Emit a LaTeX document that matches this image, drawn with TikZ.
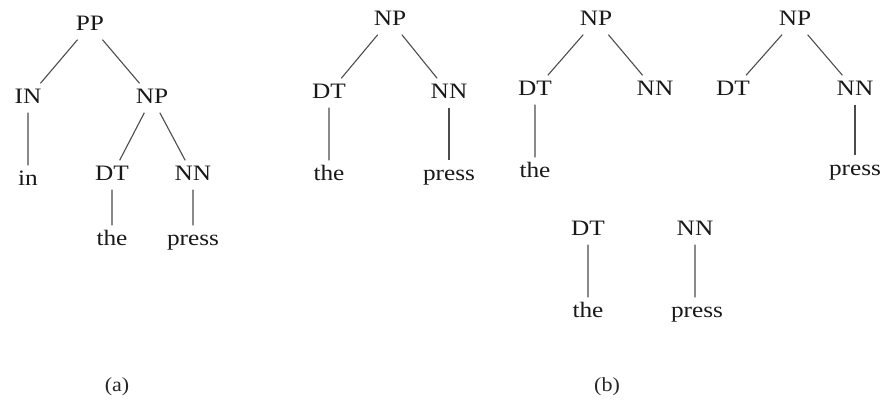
\documentclass[tikz,border=0pt]{standalone}
\usepackage{fontspec}
\setmainfont{Liberation Serif}
\begin{document}
\begin{tikzpicture}[
    x=1pt, y=-1pt,
    % Styles
    cat/.style={font=\fontsize{22}{25}\selectfont, xscale=1.15, text height=15pt, text depth=4pt, inner sep=5pt, text=black!90},
    word/.style={cat},
    branch/.style={line width=1.1pt, black!70},
    caption/.style={font=\fontsize{20}{23}\selectfont, xscale=1.1, text=black!85},
]
\useasboundingbox (0,0) rectangle (885,400);

% (a) full tree
\node[cat] (pp) at (90, 25) {PP};
\node[cat] (in-tag) at (28, 98) {IN};
\node[cat] (np-a) at (152, 98) {NP};
\node[word] (in-word) at (28, 180) {in};
\node[cat] (dt-a) at (112, 175) {DT};
\node[cat] (nn-a) at (193, 175) {NN};
\node[word] (the-a) at (112, 240) {the};
\node[word] (press-a) at (193, 240) {press};

\draw[branch] (pp) -- (in-tag);
\draw[branch] (pp) -- (np-a);
\draw[branch] (in-tag) -- (in-word);
\draw[branch] (np-a) -- (dt-a);
\draw[branch] (np-a) -- (nn-a);
\draw[branch] (dt-a) -- (the-a);
\draw[branch] (nn-a) -- (press-a);

% (b) subtrees
\node[cat] (np-b) at (390, 20) {NP};
\node[cat] (dt-b) at (329, 93) {DT};
\node[cat] (nn-b) at (449, 93) {NN};
\node[word] (the-b) at (329, 175) {the};
\node[word] (press-b) at (449, 175) {press};

\draw[branch] (np-b) -- (dt-b);
\draw[branch] (np-b) -- (nn-b);
\draw[branch] (dt-b) -- (the-b);
\draw[branch] (nn-b) -- (press-b);

\node[cat] (np-c) at (596, 20) {NP};
\node[cat] (dt-c) at (535, 90) {DT};
\node[cat] (nn-c) at (655, 90) {NN};
\node[word] (the-c) at (535, 172) {the};

\draw[branch] (np-c) -- (dt-c);
\draw[branch] (np-c) -- (nn-c);
\draw[branch] (dt-c) -- (the-c);

\node[cat] (np-d) at (795, 20) {NP};
\node[cat] (dt-d) at (733, 90) {DT};
\node[cat] (nn-d) at (855, 90) {NN};
\node[word] (press-d) at (855, 170) {press};

\draw[branch] (np-d) -- (dt-d);
\draw[branch] (np-d) -- (nn-d);
\draw[branch] (nn-d) -- (press-d);

\node[cat] (dt-e) at (588, 230) {DT};
\node[cat] (nn-e) at (695, 230) {NN};
\node[word] (the-e) at (588, 312) {the};
\node[word] (press-e) at (697, 312) {press};

\draw[branch] (dt-e) -- (the-e);
\draw[branch] (nn-e) -- (nn-e |- press-e.north);

% Captions
\node[caption] (cap-a) at (117, 387) {(a)};
\node[caption] (cap-b) at (607, 387) {(b)};

\end{tikzpicture}
\end{document}
